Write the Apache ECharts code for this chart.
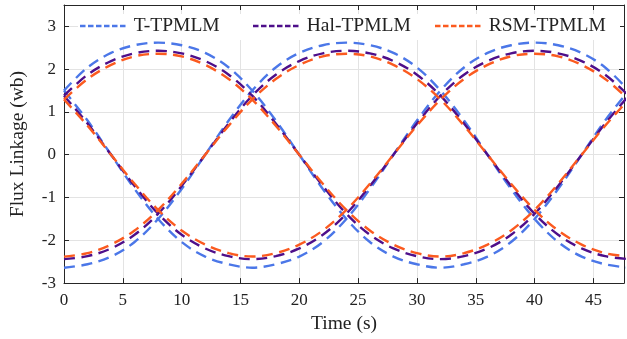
<!DOCTYPE html>
<html><head><meta charset="utf-8">
<script src="https://cdn.jsdelivr.net/npm/echarts@6/dist/echarts.min.js"></script>
<style>html,body{margin:0;padding:0;background:#fff}#c{width:627px;height:339px}</style>
</head><body><div id="c"></div>
<script>
const times = [0,2,4,6,8,10,12,14,16,18,20,22,24,26,28,30,32,34,36,38,40,42,44,46,48];
const xTicks = [0,5,10,15,20,25,30,35,40,45];
const yTicks = [-3,-2,-1,0,1,2,3];
const seriesNames = ['T-TPMLM','Hal-TPMLM','RSM-TPMLM'];
// T-TPMLM, phases A/B/C
const tA = [1.50,2.04,2.38,2.56,2.62,2.56,2.38,2.04,1.50,0.80,0,-0.80,-1.50,-2.04,-2.38,-2.56,-2.64,-2.56,-2.38,-2.04,-1.50,-0.80,0,0.80,1.50];
const tB = [-2.64,-2.56,-2.38,-2.04,-1.50,-0.80,0,0.80,1.50,2.04,2.38,2.56,2.62,2.56,2.38,2.04,1.50,0.80,0,-0.80,-1.50,-2.04,-2.38,-2.56,-2.64];
const tC = [1.50,0.80,0,-0.80,-1.50,-2.04,-2.38,-2.56,-2.64,-2.56,-2.38,-2.04,-1.50,-0.80,0,0.80,1.50,2.04,2.38,2.56,2.62,2.56,2.38,2.04,1.50];
// Hal-TPMLM
const hA = [1.38,1.87,2.19,2.37,2.43,2.37,2.19,1.87,1.38,0.73,0,-0.73,-1.38,-1.87,-2.19,-2.37,-2.44,-2.37,-2.19,-1.87,-1.38,-0.73,0,0.73,1.38];
const hB = [-2.44,-2.37,-2.19,-1.87,-1.38,-0.73,0,0.73,1.38,1.87,2.19,2.37,2.43,2.37,2.19,1.87,1.38,0.73,0,-0.73,-1.38,-1.87,-2.19,-2.37,-2.44];
const hC = [1.38,0.73,0,-0.73,-1.38,-1.87,-2.19,-2.37,-2.44,-2.37,-2.19,-1.87,-1.38,-0.73,0,0.73,1.38,1.87,2.19,2.37,2.43,2.37,2.19,1.87,1.38];
// RSM-TPMLM
const rA = [1.29,1.77,2.10,2.30,2.36,2.30,2.10,1.77,1.29,0.68,0,-0.68,-1.29,-1.77,-2.10,-2.30,-2.38,-2.30,-2.10,-1.77,-1.29,-0.68,0,0.68,1.29];
const rB = [-2.38,-2.30,-2.10,-1.77,-1.29,-0.68,0,0.68,1.29,1.77,2.10,2.30,2.36,2.30,2.10,1.77,1.29,0.68,0,-0.68,-1.29,-1.77,-2.10,-2.30,-2.38];
const rC = [1.29,0.68,0,-0.68,-1.29,-1.77,-2.10,-2.30,-2.38,-2.30,-2.10,-1.77,-1.29,-0.68,0,0.68,1.29,1.77,2.10,2.30,2.36,2.30,2.10,1.77,1.29];

const colors = {'T-TPMLM':'#4b77e8','Hal-TPMLM':'#4e0f8a','RSM-TPMLM':'#fb5a1f'};
const groups = [
  ['T-TPMLM',[tA,tB,tC]],
  ['Hal-TPMLM',[hA,hB,hC]],
  ['RSM-TPMLM',[rA,rB,rC]]
];
const series = [];
groups.forEach(([name, arrs]) => {
  arrs.forEach(arr => {
    series.push({
      name, type:'line', smooth:0.35, symbol:'none', animation:false,
      data: times.map((t,i)=>[t,arr[i]]),
      lineStyle:{color:colors[name], width:2.4, type:[11,6.5]},
      itemStyle:{color:colors[name]}
    });
  });
});
const font = 'Liberation Serif';
const isTick = (v, arr) => arr.some(a => Math.abs(a - v) < 1e-6);
const dotIcon = 'path://M0,0h5.5v2.6h-5.5z M8,0h5.5v2.6h-5.5z M16,0h5.5v2.6h-5.5z M24,0h5.5v2.6h-5.5z M32,0h5.5v2.6h-5.5z M40,0h5.5v2.6h-5.5z';
const legendPos = [80, 253, 435];
const legends = seriesNames.map((n,i)=>({
  show:true, type:'plain', orient:'horizontal',
  data:[{name:n, icon:dotIcon, itemStyle:{color:colors[n]}}],
  left:legendPos[i], top:16, itemWidth:48, itemHeight:2.6, itemGap:0,
  textStyle:{fontFamily:font, fontSize:19.5, color:'#222', padding:[0,0,0,2]},
  selectedMode:false, padding:0, z:10
}));
const chart = echarts.init(document.getElementById('c'));
chart.setOption({
  animation:false,
  backgroundColor:'#fff',
  grid:{left:64, right:0, top:5, bottom:50, containLabel:false},
  graphic:[{type:'rect', shape:{x:78,y:14,width:542,height:26}, style:{fill:'#fff'}, z:3}],
  legend: legends,
  xAxis:[{
    type:'value', min:0, max:47.6, interval:5,
    name:'Time (s)', nameLocation:'middle', nameGap:27,
    nameTextStyle:{fontFamily:font, fontSize:19.5, color:'#222'},
    axisLine:{onZero:false, lineStyle:{color:'#262626', width:1}},
    axisTick:{inside:true, length:5, lineStyle:{color:'#262626'}},
    axisLabel:{fontFamily:font, fontSize:17, color:'#222', margin:9,
      formatter:v=>isTick(v,xTicks)?String(v):''},
    splitLine:{show:true, lineStyle:{color:'#e3e3e3', width:1}}
  },{
    type:'value', min:0, max:47.6, interval:5, position:'top',
    axisLine:{show:true, onZero:false, lineStyle:{color:'#262626', width:1}},
    axisTick:{inside:true, length:5, lineStyle:{color:'#262626'}},
    axisLabel:{show:false}, splitLine:{show:false}
  }],
  yAxis:[{
    type:'value', min:-3, max:3.5, interval:1,
    name:'Flux Linkage (wb)', nameLocation:'middle', nameGap:36,
    nameTextStyle:{fontFamily:font, fontSize:19.5, color:'#222'},
    axisLine:{show:true, onZero:false, lineStyle:{color:'#262626', width:1}},
    axisTick:{show:true, inside:true, length:5, lineStyle:{color:'#262626'}},
    axisLabel:{fontFamily:font, fontSize:17, color:'#222', margin:8,
      formatter:v=>isTick(v,yTicks)?String(v):''},
    splitLine:{show:true, lineStyle:{color:'#e3e3e3', width:1}}
  },{
    type:'value', min:-3, max:3.5, interval:1, position:'right',
    axisLine:{show:true, onZero:false, lineStyle:{color:'#262626', width:1}},
    axisTick:{show:true, inside:true, length:5, lineStyle:{color:'#262626'}},
    axisLabel:{show:false}, splitLine:{show:false}
  }],
  series
});
</script></body></html>
